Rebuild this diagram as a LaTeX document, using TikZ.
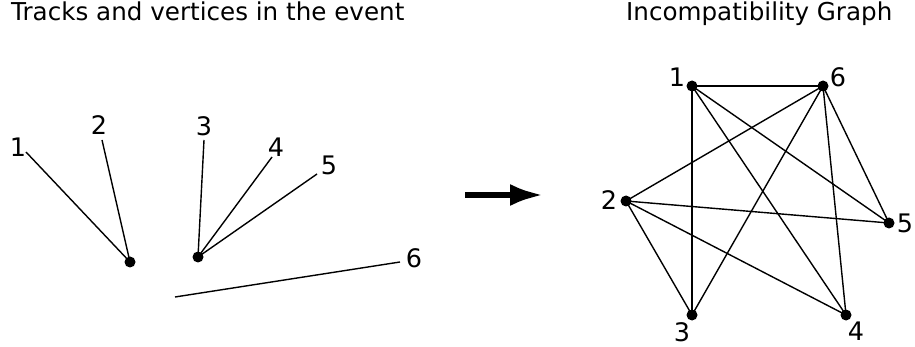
\documentclass[tikz,border=0pt]{standalone}
\usepackage{fontspec}
\setmainfont{DejaVu Sans}
\usetikzlibrary{arrows.meta}
\begin{document}
\begin{tikzpicture}[x=1pt,y=-1pt,
  dot/.style={circle,fill=black,inner sep=0pt,minimum size=11pt},
  lbl/.style={inner sep=0pt,font=\fontsize{25.5}{25.5}\selectfont},
  ttl/.style={inner sep=0pt,anchor=base west,font=\fontsize{24.6}{24.6}\selectfont},
  edge/.style={line width=1.4pt},
  bigarrow/.style={line width=6.5pt,-{Latex[length=34pt,width=22pt]}}]
\useasboundingbox (0,0) rectangle (915,347);
% titles
\node[ttl] (t1) at (11,21) {Tracks and vertices in the event};
\node[ttl] (t2) at (626,21) {Incompatibility Graph};
% left: tracks and vertices
\node[dot] (va) at (130,262) {};
\node[dot] (vb) at (198,257) {};
\coordinate (e1) at (26,152);
\coordinate (e2) at (102,140);
\coordinate (e3) at (204,140);
\coordinate (e4) at (272,157);
\coordinate (e5) at (317,174);
\coordinate (s6) at (175,297);
\coordinate (e6) at (400,262);
\draw[edge] (e1) -- (va.center);
\draw[edge] (e2) -- (va.center);
\draw[edge] (e3) -- (vb.center);
\draw[edge] (e4) -- (vb.center);
\draw[edge] (e5) -- (vb.center);
\draw[edge] (s6) -- (e6);
\node[lbl] (l1) at (18,147) {1};
\node[lbl] (l2) at (99,125) {2};
\node[lbl] (l3) at (204,126) {3};
\node[lbl] (l4) at (276,147) {4};
\node[lbl] (l5) at (329,165) {5};
\node[lbl] (l6) at (414,258) {6};
% arrow
\coordinate (as) at (465,195);
\coordinate (ae) at (544,195);
\draw[bigarrow] (as) -- (ae);
% right: incompatibility graph
\node[dot] (n1) at (692,86) {};
\node[dot] (n6) at (823,86) {};
\node[dot] (n2) at (626,201) {};
\node[dot] (n5) at (889,223) {};
\node[dot] (n3) at (692,315) {};
\node[dot] (n4) at (846,315) {};
\foreach \a/\b in {n1/n6,n1/n3,n1/n4,n1/n5,n6/n2,n6/n3,n6/n4,n6/n5,n2/n5,n2/n3,n2/n4}
  \draw[edge] (\a.center) -- (\b.center);
\node[lbl] (m1) at (677,77) {1};
\node[lbl] (m6) at (838,77) {6};
\node[lbl] (m2) at (609,200) {2};
\node[lbl] (m5) at (905,223) {5};
\node[lbl] (m3) at (682,332) {3};
\node[lbl] (m4) at (856,331) {4};
\end{tikzpicture}
\end{document}
